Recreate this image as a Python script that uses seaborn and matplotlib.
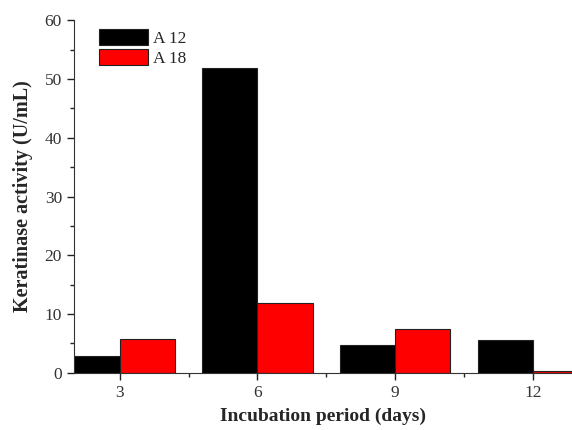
import pandas as pd
import seaborn as sns
import matplotlib.pyplot as plt
from matplotlib.ticker import MultipleLocator, FixedLocator

# data
days = [3, 6, 9, 12]
a12 = [2.8, 51.8, 4.7, 5.5]
a18 = [5.8, 11.8, 7.4, 0.3]

df = pd.DataFrame({
    'day': days * 2,
    'activity': a12 + a18,
    'strain': ['A 12'] * len(days) + ['A 18'] * len(days),
})

sns.set_style('ticks')
plt.rcParams['font.family'] = ['Liberation Serif', 'DejaVu Serif']

fig = plt.figure(figsize=(5.72, 4.3), dpi=100)
ax = fig.add_axes([0.129, 0.133, 0.871, 0.82])

sns.barplot(data=df, x='day', y='activity', hue='strain', native_scale=True,
            palette={'A 12': 'black', 'A 18': '#ff0000'}, saturation=1, width=0.8,
            edgecolor='#222222', linewidth=0.8, ax=ax)

ax.set_xlim(2, 12.85)
ax.set_ylim(0, 60)
ax.xaxis.set_major_locator(FixedLocator(days))
ax.xaxis.set_minor_locator(FixedLocator([4.5, 7.5, 10.5]))
ax.yaxis.set_major_locator(MultipleLocator(10))
ax.yaxis.set_minor_locator(MultipleLocator(5))
ax.tick_params(which='major', length=5, width=1, labelsize=12.5, colors='#222222')
ax.tick_params(which='minor', length=3, width=1)
for lab in ax.get_xticklabels() + ax.get_yticklabels():
    lab.set_color('#333333')

sns.despine(ax=ax)
ax.spines['left'].set_color('#333333')
ax.spines['bottom'].set_color('#333333')

ax.set_xlabel('Incubation period (days)', fontsize=14, fontweight='bold', labelpad=5)
ax.set_ylabel('Keratinase activity (U/mL)', fontsize=14.5, fontweight='bold', labelpad=8)

ax.legend(loc='upper left', bbox_to_anchor=(0.02, 1.02), frameon=False, fontsize=12.5,
          handlelength=2.8, handleheight=1.1, handletextpad=0.3, labelspacing=0.1)

fig.savefig('out.png', dpi=100)
